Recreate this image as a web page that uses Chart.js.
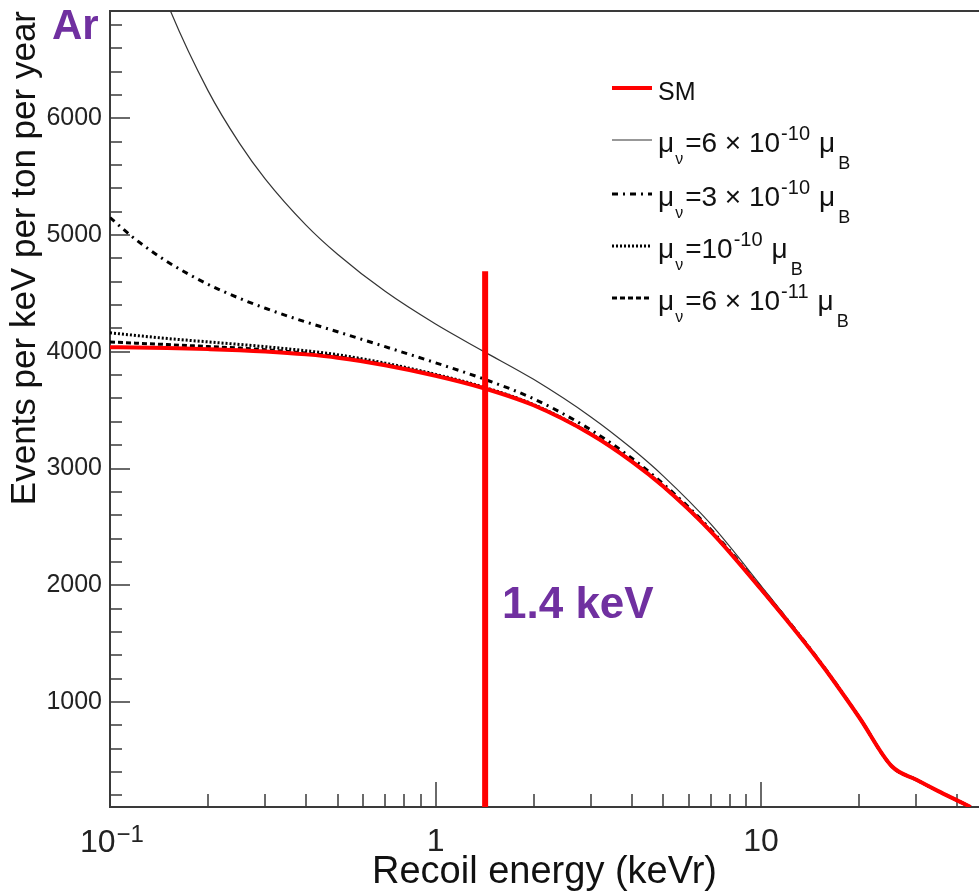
<!DOCTYPE html>
<html>
<head>
<meta charset="utf-8">
<script src="https://cdn.jsdelivr.net/npm/chart.js@4"></script>
<style>
  html, body { margin: 0; padding: 0; background: #fff; overflow: hidden; }
  #wrap { position: relative; width: 979px; height: 894px; }
</style>
</head>
<body>
<div id="wrap"><canvas id="chart" width="979" height="894"></canvas></div>
<script>
const energies = [0.1, 0.12, 0.15, 0.2, 0.25, 0.3, 0.4, 0.5, 0.7, 1, 1.4, 2, 3, 4, 5, 7, 10, 15, 20, 25.2, 30, 35, 40, 44];

// Events per keV per ton per year
const smRate = [4040, 4037, 4032, 4023, 4014, 4003, 3978, 3950, 3885, 3795, 3690, 3542, 3294, 3062, 2848, 2462, 1965, 1357, 869, 449, 333, 236, 157, 100];
const mu6e10 = [8470, 7729, 6985, 6238, 5786, 5480, 5086, 4836, 4518, 4238, 4006, 3764, 3442, 3173, 2937, 2525, 1995, 1367, 872, 449, 333, 236, 157, 100];
const mu3e10 = [5150, 4962, 4772, 4578, 4458, 4373, 4255, 4172, 4044, 3906, 3769, 3598, 3331, 3090, 2870, 2478, 1976, 1364, 871, 449, 333, 236, 157, 100];
const mu1e10 = [4163, 4140, 4114, 4085, 4063, 4044, 4009, 3975, 3903, 3807, 3699, 3548, 3298, 3065, 2850, 2464, 1966, 1358, 870, 449, 333, 236, 157, 100];
const mu6e11 = [4084, 4074, 4062, 4045, 4032, 4018, 3989, 3959, 3891, 3799, 3693, 3544, 3295, 3063, 2849, 2463, 1965, 1357, 869, 449, 333, 236, 157, 100];

// Threshold marker
const thresholdE = 1.42;
const thresholdTop = 4690;

// Axis ticks
const xMajorTicks = [0.1, 1, 10];
const xMinorTicks = [0.2, 0.3, 0.4, 0.5, 0.6, 0.7, 0.8, 0.9, 2, 3, 4, 5, 6, 7, 8, 9, 20, 30, 40];
const yMajorTicks = [1000, 2000, 3000, 4000, 5000, 6000];
const yMinorTicks = [200, 400, 600, 800, 1200, 1400, 1600, 1800, 2200, 2400, 2600, 2800, 3200, 3400, 3600, 3800,
  4200, 4400, 4600, 4800, 5200, 5400, 5600, 5800, 6200, 6400, 6600, 6800];

const FONT = '"Liberation Sans", Arial, Helvetica, sans-serif';
const PURPLE = '#7030A0';
Chart.defaults.font.family = FONT;

function pts(arr) {
  return energies.map((e, i) => ({ x: e, y: arr[i] }));
}

// Frame and inward ticks, ROOT style
const framePlugin = {
  id: 'frame',
  beforeDatasetsDraw(chart) {
    const { ctx, chartArea: a, scales: { x, y } } = chart;
    ctx.save();
    ctx.strokeStyle = '#3a3a3a';
    ctx.lineWidth = 2;
    ctx.beginPath();
    ctx.moveTo(a.right + 5, a.top);
    ctx.lineTo(a.left, a.top);
    ctx.lineTo(a.left, a.bottom);
    ctx.lineTo(a.right + 5, a.bottom);
    ctx.stroke();

    ctx.lineWidth = 1.5;
    ctx.beginPath();
    xMinorTicks.forEach(v => {
      const px = Math.round(x.getPixelForValue(v));
      ctx.moveTo(px, a.bottom); ctx.lineTo(px, a.bottom - 13);
    });
    xMajorTicks.forEach(v => {
      const px = Math.round(x.getPixelForValue(v));
      ctx.moveTo(px, a.bottom); ctx.lineTo(px, a.bottom - 25);
    });
    yMinorTicks.forEach(v => {
      const py = Math.round(y.getPixelForValue(v));
      ctx.moveTo(a.left, py); ctx.lineTo(a.left + 12, py);
    });
    yMajorTicks.forEach(v => {
      const py = Math.round(y.getPixelForValue(v));
      ctx.moveTo(a.left, py); ctx.lineTo(a.left + 20, py);
    });
    ctx.stroke();
    ctx.restore();
  }
};

// draw text made of pieces (sub/superscripts)
function drawRich(ctx, x, baseline, parts) {
  parts.forEach(p => {
    ctx.font = (p.bold ? 'bold ' : '') + p.size + 'px ' + FONT;
    x += p.gap || 0;
    ctx.fillText(p.t, x, baseline + (p.dy || 0));
    x += ctx.measureText(p.t).width;
  });
}

function muLabel(pre, exp) {
  return [
    { t: '\u03bc', size: 28 },
    { t: '\u03bd', size: 16, dy: 12, gap: 1 },
    { t: pre, size: 28, gap: 2 },
    { t: exp, size: 20, dy: -12, gap: 1 },
    { t: '\u03bc', size: 28, gap: 9 },
    { t: 'B', size: 18, dy: 17, gap: 3 }
  ];
}

const legendRows = [
  { ds: 1, y: 88, parts: [{ t: 'SM', size: 25 }] },
  { ds: 2, y: 140, parts: muLabel('=6 \u00d7 10', '-10') },
  { ds: 3, y: 194, parts: muLabel('=3 \u00d7 10', '-10') },
  { ds: 4, y: 246, parts: muLabel('=10', '-10') },
  { ds: 5, y: 298, parts: muLabel('=6 \u00d7 10', '-11') }
];

const annotatePlugin = {
  id: 'annotate',
  afterDraw(chart) {
    const { ctx, scales: { x } } = chart;
    ctx.save();
    ctx.textBaseline = 'alphabetic';
    ctx.textAlign = 'left';

    // legend
    legendRows.forEach(row => {
      const ds = chart.data.datasets[row.ds];
      ctx.strokeStyle = ds.borderColor;
      ctx.lineWidth = ds.borderWidth;
      ctx.setLineDash(ds.borderDash || []);
      ctx.beginPath();
      ctx.moveTo(612, row.y);
      ctx.lineTo(652, row.y);
      ctx.stroke();
      ctx.setLineDash([]);
      ctx.fillStyle = '#111';
      drawRich(ctx, 658, row.y + 12, row.parts);
    });

    // 10^-1 tick label
    ctx.fillStyle = '#222';
    const px = x.getPixelForValue(0.1);
    drawRich(ctx, px - 30, 852, [
      { t: '10', size: 32 },
      { t: '\u22121', size: 24, dy: -10, gap: 1 }
    ]);

    // purple annotations
    ctx.fillStyle = PURPLE;
    ctx.font = 'bold 42px ' + FONT;
    ctx.fillText('Ar', 52, 39);
    ctx.font = 'bold 44px ' + FONT;
    ctx.fillText('1.4 keV', 502, 618);
    ctx.restore();
  }
};

const blackLine = { borderColor: '#000', borderWidth: 3, pointRadius: 0, fill: false, cubicInterpolationMode: 'monotone' };

new Chart(document.getElementById('chart'), {
  type: 'line',
  data: {
    datasets: [
      {
        label: '1.4 keV',
        data: [{ x: thresholdE, y: 100 }, { x: thresholdE, y: thresholdTop }],
        borderColor: '#ff0000', borderWidth: 6, pointRadius: 0, borderCapStyle: 'butt'
      },
      {
        label: 'SM', data: pts(smRate),
        borderColor: '#ff0000', borderWidth: 4, pointRadius: 0, cubicInterpolationMode: 'monotone'
      },
      {
        label: '6e-10', data: pts(mu6e10),
        borderColor: '#333', borderWidth: 1.2, pointRadius: 0, cubicInterpolationMode: 'monotone'
      },
      Object.assign({ label: '3e-10', data: pts(mu3e10), borderDash: [6, 5, 2, 5] }, blackLine),
      Object.assign({ label: '1e-10', data: pts(mu1e10), borderDash: [2, 2] }, blackLine),
      Object.assign({ label: '6e-11', data: pts(mu6e11), borderDash: [5, 3] }, blackLine)
    ]
  },
  options: {
    responsive: false,
    animation: false,
    devicePixelRatio: 1,
    layout: { padding: { top: 11, right: 0, left: 0, bottom: 0 } },
    plugins: { legend: { display: false }, tooltip: { enabled: false } },
    scales: {
      x: {
        type: 'logarithmic',
        min: 0.1,
        max: 46.7,
        afterBuildTicks: axis => { axis.ticks = xMajorTicks.map(v => ({ value: v })); },
        afterFit: axis => { axis.height = 87; axis.paddingRight = 0; },
        grid: { display: false, drawTicks: false },
        border: { display: false },
        ticks: {
          autoSkip: false, maxRotation: 0, padding: 16,
          color: '#222', font: { size: 32 },
          callback: v => (v === 1 ? '1' : v === 10 ? '10' : '')
        },
        title: {
          display: true, text: 'Recoil energy (keVr)', color: '#111',
          font: { size: 38, lineHeight: 1 }, padding: { top: 0, bottom: 2 }
        }
      },
      y: {
        min: 100,
        max: 6920,
        afterBuildTicks: axis => { axis.ticks = yMajorTicks.map(v => ({ value: v })); },
        afterFit: axis => { axis.width = 110; axis.paddingTop = 0; axis.paddingBottom = 0; },
        grid: { display: false, drawTicks: false },
        border: { display: false },
        ticks: { padding: 8, color: '#222', font: { size: 25 }, callback: v => String(v) },
        title: {
          display: true, align: 'end', text: 'Events per keV per ton per year', color: '#111',
          font: { size: 35 }, padding: { top: 4, bottom: 0 }
        }
      }
    }
  },
  plugins: [framePlugin, annotatePlugin]
});
</script>
</body>
</html>
